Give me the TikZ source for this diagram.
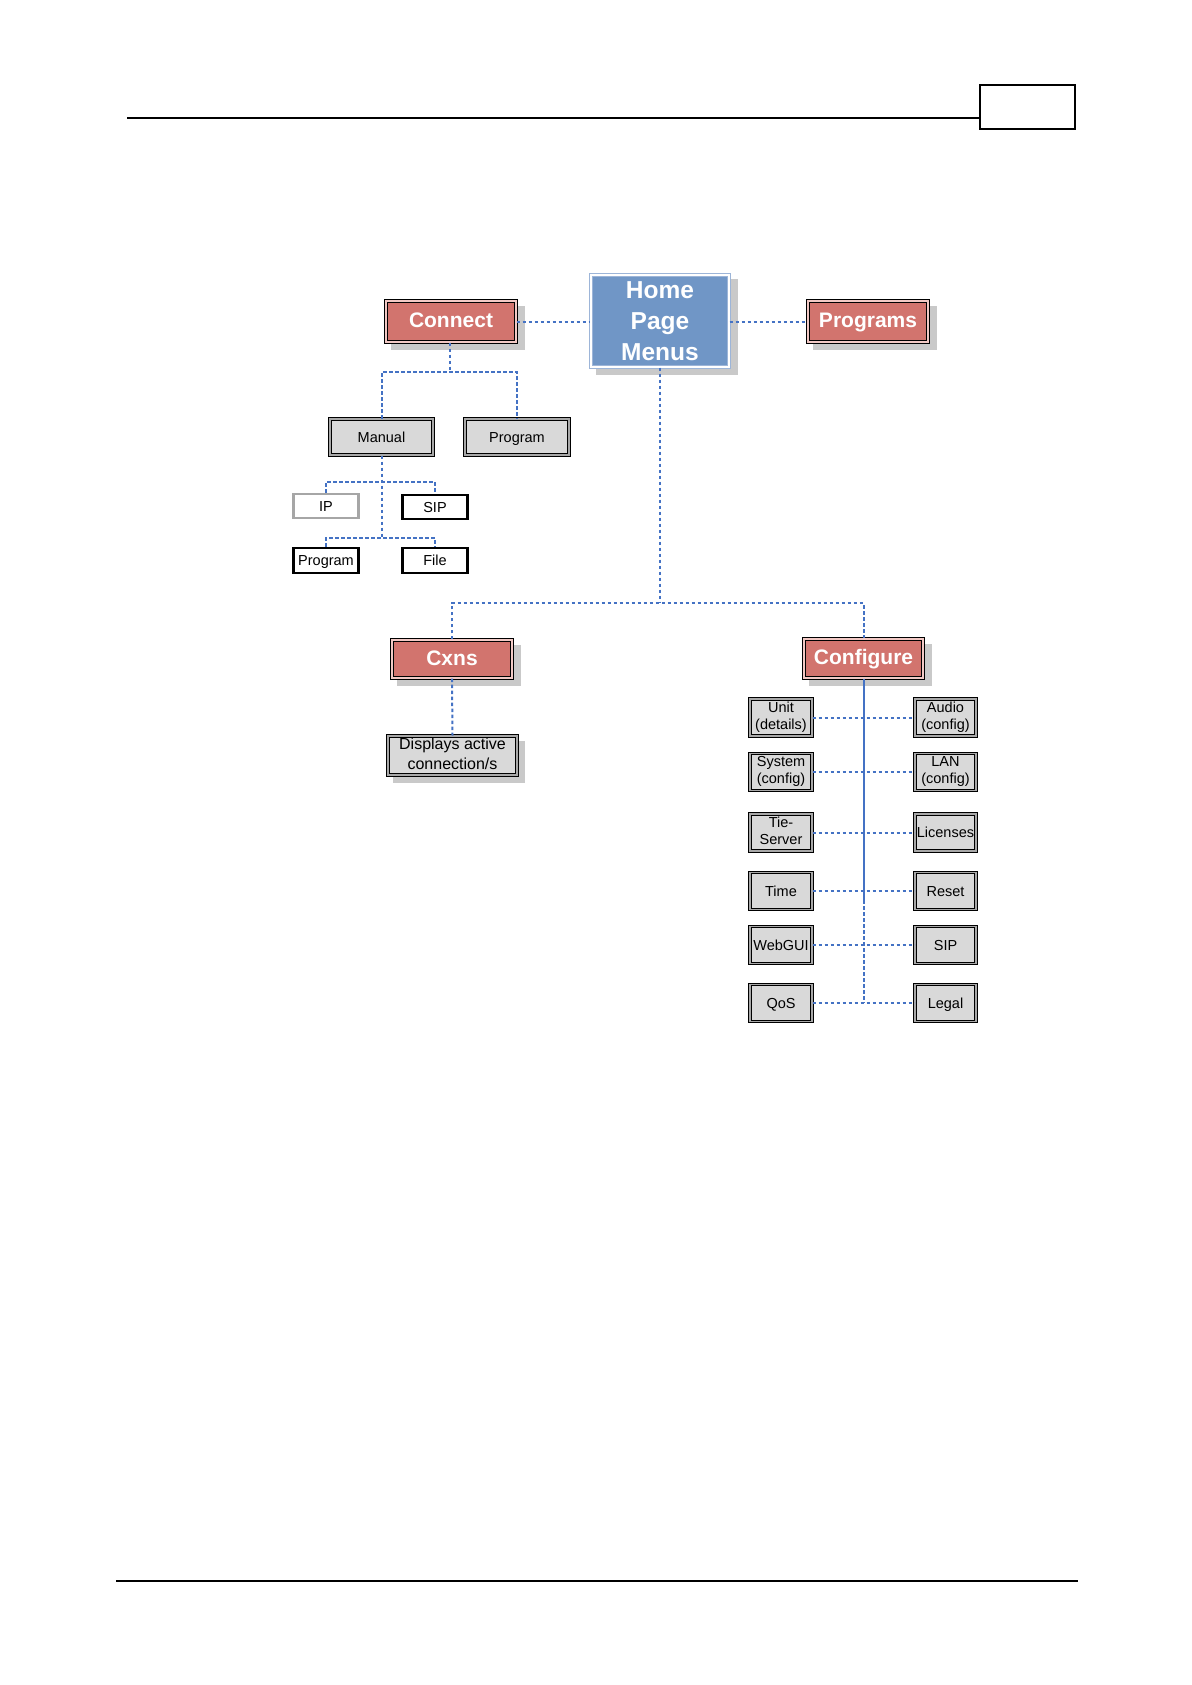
\documentclass[tikz,border=0pt]{standalone}
\usepackage{fontspec}
\setmainfont{Liberation Sans}
\definecolor{redgap}{HTML}{F2C9C5}
\definecolor{redfill}{HTML}{D2746E}
\definecolor{homeline}{HTML}{9DB5D8}
\definecolor{homefill}{HTML}{7096C6}
\definecolor{graygap}{HTML}{A8A8A8}
\definecolor{grayfill}{HTML}{D9D9D9}
\definecolor{connblue}{HTML}{4472C4}
\definecolor{shadowgray}{HTML}{C9C9C9}
\definecolor{ipline}{HTML}{A6A6A6}
\newcommand\gstrut{\rule[-3.6pt]{0pt}{17.6pt}}
\newcommand\rstrut{\rule[-4.5pt]{0pt}{21pt}}
\newcommand\dstrut{\rule[-4pt]{0pt}{19.5pt}}
\begin{document}
\begin{tikzpicture}[x=1pt,y=-1pt,
  gstrutted/.style={execute at begin node=\gstrut, execute at end node=\gstrut},
  redbox/.style={draw=black, line width=1.1pt, double=redgap, double distance=1.4pt,
    fill=redfill, text=white, font=\fontsize{21}{24}\selectfont\bfseries, inner sep=0pt,
    execute at begin node=\rstrut},
  homebox/.style={draw=homeline, line width=1.3pt, double=white, double distance=1.3pt,
    fill=homefill, text=white, font=\fontsize{24.5}{31}\selectfont\bfseries, align=center, inner sep=0pt},
  graybox/.style={draw=black, line width=1pt, double=graygap, double distance=1.4pt,
    fill=grayfill, text=black, font=\fontsize{14.5}{17}\selectfont, align=center, inner sep=0pt, gstrutted},
  whitebox/.style={draw=black, line width=2.2pt, fill=white, text=black,
    font=\fontsize{14.5}{17}\selectfont, inner sep=0pt, minimum width=65pt, minimum height=24pt, gstrutted},
  conn/.style={draw=connblue, line width=2pt, dash pattern=on 3.5pt off 2.5pt},
  connsolid/.style={draw=connblue, line width=2pt},
  shadowbox/.style={fill=shadowgray, draw=none}
]
\useasboundingbox (0,0) rectangle (1191,1685);

% header and footer
\draw[line width=1.1pt] (127,118) -- (980,118);
\draw[line width=1.1pt] (980,85) rectangle (1075,129);
\draw[line width=2.2pt] (980,129) -- (1075,129);
\draw[line width=2.6pt] (116,1581) -- (1078,1581);

% shadows
\fill[shadowbox] (596,279) rectangle (738,375);
\fill[shadowbox] (391,306) rectangle (525,350);
\fill[shadowbox] (813,306) rectangle (937,350);
\fill[shadowbox] (397,645) rectangle (521,686);
\fill[shadowbox] (809,644) rectangle (932,686);
\fill[shadowbox] (393,741) rectangle (525,783);

% top level
\node[homebox, minimum width=138pt, minimum height=92pt] (home) at (660,321) {Home\\Page\\Menus};
\node[redbox, minimum width=130pt, minimum height=41pt] (connect) at (451,321.5) {Connect};
\node[redbox, minimum width=120pt, minimum height=41pt] (programs) at (868,321.5) {Programs};

% connect subtree
\node[graybox, minimum width=103pt, minimum height=36pt] (manual) at (381.5,437) {Manual};
\node[graybox, minimum width=104pt, minimum height=36pt] (progA) at (517,437) {Program};
\node[whitebox, draw=ipline] (ip) at (326,506) {IP};
\node[whitebox] (sip) at (435,507) {SIP};
\node[whitebox, minimum height=25pt] (progB) at (326,560.5) {Program};
\node[whitebox, minimum height=25pt] (file) at (435,560.5) {File};

% second level
\node[redbox, minimum width=120pt, minimum height=38pt] (cxns) at (452,659) {Cxns};
\node[graybox, minimum width=129pt, minimum height=39pt, font=\fontsize{16}{19.5}\selectfont,
  execute at begin node=\dstrut, execute at end node=\dstrut] (disp) at (452.5,755.5) {Displays active\\connection/s};
\node[redbox, minimum width=119pt, minimum height=39pt] (configure) at (863.5,658.5) {Configure};

% configure children
\foreach \n/\t/\y in {unit/{Unit\\(details)}/717.5, system/{System\\(config)}/772, tie/{Tie-\\Server}/832.5, time/Time/891, web/WebGUI/945, qos/QoS/1003}
  \node[graybox, minimum width=62pt, minimum height=37pt] (\n) at (781,\y) {\t};
\foreach \n/\t/\y in {audio/{Audio\\(config)}/717.5, lan/{LAN\\(config)}/772, lic/Licenses/832.5, reset/Reset/891, sipc/SIP/945, legal/Legal/1003}
  \node[graybox, minimum width=61pt, minimum height=37pt] (\n) at (945.5,\y) {\t};

% connectors
\coordinate (j1) at (450,372);
\coordinate (j2) at (381.5,482);
\coordinate (j3) at (381.5,538);
\coordinate (j4) at (659.5,603);
\coordinate (j5) at (863.5,900);

\draw[conn] (connect.east) -- (connect.east -| home.west);
\draw[conn] (home.east |- programs.west) -- (programs.west);
\draw[conn] (connect.south -| j1) -- (j1);
\draw[conn] (manual.north) |- (j1) -| (progA.north);
\draw[conn] (manual.south) -- (j3);
\draw[conn] (ip.north) |- (j2) -| (sip.north);
\draw[conn] (progB.north) |- (j3) -| (file.north);
\draw[conn] (home.south -| j4) -- (j4);
\draw[conn] (cxns.north) |- (j4) -| (configure.north);
\draw[conn] (cxns.south) -- (disp.north);
\draw[connsolid] (configure.south) -- (j5);
\draw[conn] (j5) -- (qos.east -| j5);
\draw[conn] (unit.east) -- (audio.west);
\draw[conn] (system.east) -- (lan.west);
\draw[conn] (tie.east) -- (lic.west);
\draw[conn] (time.east) -- (reset.west);
\draw[conn] (web.east) -- (sipc.west);
\draw[conn] (qos.east) -- (legal.west);
\end{tikzpicture}
\end{document}
